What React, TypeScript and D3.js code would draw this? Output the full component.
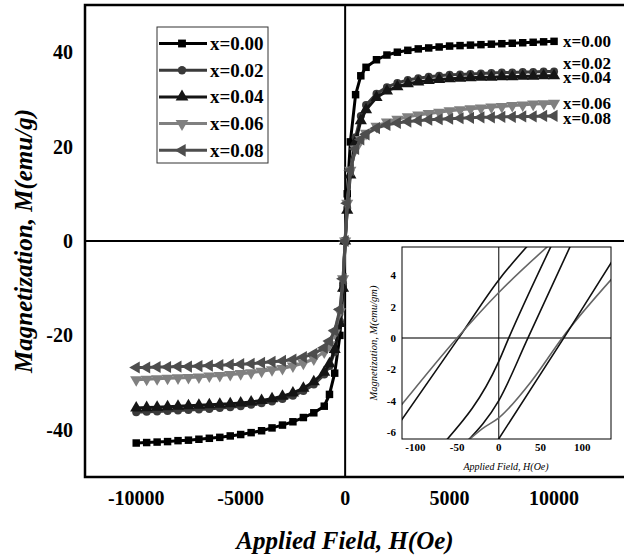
import React from "react";
import * as d3 from "d3";

// applied field (Oe) shared by all series
const fieldH = [
  -10000, -9500, -9000, -8500, -8000, -7500, -7000, -6500, -6000, -5500, -5000, -4500, -4000, -3500, -3000,
  -2500, -2000, -1500, -1000, -750, -500, -250, -100, 0, 100, 250, 500, 750, 1000, 1500, 2000, 2500, 3000,
  3500, 4000, 4500, 5000, 5500, 6000, 6500, 7000, 7500, 8000, 8500, 9000, 9500, 10000,
];

const seriesNames = ["x=0.00", "x=0.02", "x=0.04", "x=0.06", "x=0.08"];

const m000 = [
  -42.8, -42.7, -42.6, -42.5, -42.3, -42.2, -42.0, -41.8, -41.6, -41.3, -41.0, -40.6, -40.2, -39.6, -39.0,
  -38.3, -37.4, -36.4, -35.0, -32.5, -28.0, -20.0, -10.0, 0, 10.0, 21.0, 31.0, 35.0, 36.8, 38.4, 39.4, 40.0,
  40.4, 40.7, 40.9, 41.1, 41.3, 41.4, 41.5, 41.6, 41.7, 41.8, 41.9, 42.0, 42.1, 42.2, 42.3,
];
const m002 = [
  -36.3, -36.2, -36.1, -36.0, -35.9, -35.8, -35.7, -35.6, -35.4, -35.2, -35.0, -34.7, -34.4, -34.0, -33.5,
  -32.8, -31.8, -30.4, -28.3, -26.5, -23.5, -17.0, -9.0, 0, 7.0, 15.0, 22.0, 26.5, 28.8, 31.2, 32.6, 33.5,
  34.1, 34.5, 34.8, 35.0, 35.2, 35.3, 35.4, 35.5, 35.6, 35.7, 35.7, 35.8, 35.8, 35.9, 35.9,
];
const m004 = [
  -35.4, -35.3, -35.2, -35.1, -35.0, -34.9, -34.8, -34.7, -34.6, -34.5, -34.3, -34.1, -33.8, -33.4, -32.9,
  -32.2, -31.2, -29.8, -27.8, -26.0, -23.0, -17.5, -10.0, 0, 6.5, 14.0, 21.0, 25.5, 27.8, 30.4, 31.8, 32.7,
  33.3, 33.7, 34.0, 34.2, 34.4, 34.5, 34.6, 34.7, 34.7, 34.8, 34.8, 34.9, 34.9, 35.0, 35.0,
];
const m006 = [
  -29.4, -29.3, -29.2, -29.1, -29.0, -28.9, -28.8, -28.6, -28.5, -28.3, -28.1, -27.9, -27.6, -27.3, -27.0,
  -26.5, -25.9, -25.0, -23.5, -22.0, -19.5, -15.0, -8.0, 0, 8.0, 15.0, 19.5, 21.5, 22.8, 24.3, 25.2, 25.8,
  26.3, 26.7, 27.0, 27.3, 27.6, 27.8, 28.0, 28.2, 28.4, 28.5, 28.7, 28.8, 29.0, 29.1, 29.2,
];
const m008 = [
  -26.8, -26.8, -26.7, -26.7, -26.6, -26.6, -26.5, -26.4, -26.3, -26.2, -26.1, -26.0, -25.8, -25.6, -25.4,
  -25.1, -24.6, -23.9, -22.6, -21.2, -19.0, -14.5, -8.0, 0, 8.0, 15.0, 19.5, 21.5, 22.6, 23.9, 24.6, 25.0,
  25.3, 25.5, 25.7, 25.8, 25.9, 26.0, 26.1, 26.2, 26.2, 26.3, 26.3, 26.4, 26.4, 26.5, 26.5,
];

const xTicks = [-10000, -5000, 0, 5000, 10000];
const yTicks = [-40, -20, 0, 20, 40];

// inset: branches of the loops near the origin, [H (Oe), M (emu/gm)]
const insetBlackA = [[-120, -5.5], [-48, 0], [0, 3.7], [40, 6.2]];
const insetGrayB = [[-120, -4.5], [-50, 0], [0, 2.9], [62, 6.0]];
const insetBlackC = [[-64, -6.6], [0, -1.5], [12, 0], [64, 6.0]];
const insetBlackD = [[-38, -6.6], [0, -4.0], [35, 0], [87, 6.0]];
const insetGrayE = [[-38, -6.6], [-20, -5.8], [0, -5.1], [40, -2.7], [76, 0], [136, 3.8]];
const insetBlackF = [[-2, -6.6], [78, 0], [136, 4.9]];

const insetXTicks = [-100, -50, 0, 50, 100];
const insetYTicks = [-6, -4, -2, 0, 2, 4];

const seriesValues = [m000, m002, m004, m006, m008];
const colors = ["#000000", "#3a3a3a", "#151515", "#808080", "#4d4d4d"];
const markerRotate = [0, 0, 0, 180, -90];
const markerTypes = [d3.symbolSquare, d3.symbolCircle, d3.symbolTriangle, d3.symbolTriangle, d3.symbolTriangle];
const markerSizes = [56, 50, 64, 64, 64];
const endLabelY = [41, 63, 77, 103, 118];

const font = "'Liberation Serif', 'Times New Roman', serif";

export default function App() {
  const x = d3.scaleLinear().domain([-12500, 13300]).range([84, 623]);
  const y = d3.scaleLinear().domain([-50, 50]).range([477, 5]);

  const line = d3
    .line<number>()
    .x((_, i) => x(fieldH[i]))
    .y((d) => y(d));

  const ix = d3.scaleLinear().domain([-116, 134.5]).range([402, 611]);
  const iy = d3.scaleLinear().domain([-6.45, 5.8]).range([439, 247]);
  const iline = d3
    .line<number[]>()
    .x((d) => ix(d[0]))
    .y((d) => iy(d[1]))
    .curve(d3.curveMonotoneX);

  const insetLines = [
    { pts: insetBlackA, c: "#111" },
    { pts: insetGrayB, c: "#666" },
    { pts: insetBlackC, c: "#111" },
    { pts: insetBlackD, c: "#111" },
    { pts: insetGrayE, c: "#666" },
    { pts: insetBlackF, c: "#111" },
  ];

  const marker = (k: number, cx: number, cy: number, key: string, scale = 1) => (
    <path
      key={key}
      d={d3.symbol().type(markerTypes[k]).size(markerSizes[k] * scale)() || ""}
      transform={`translate(${cx},${cy}) rotate(${markerRotate[k]})`}
      fill={colors[k]}
    />
  );

  return (
    <svg width={624} height={560} style={{ position: "absolute", left: 0, top: 0, background: "#fff" }} fontFamily={font}>
      <defs>
        <clipPath id="insetClip">
          <rect x={ix.range()[0]} y={iy.range()[1]} width={ix.range()[1] - ix.range()[0]} height={iy.range()[0] - iy.range()[1]} />
        </clipPath>
      </defs>

      {/* zero lines */}
      <line x1={x.range()[0]} x2={624} y1={y(0)} y2={y(0)} stroke="#000" strokeWidth={2} />
      <line x1={x(0)} x2={x(0)} y1={y(50)} y2={y(-50)} stroke="#000" strokeWidth={2} />

      {/* series */}
      {seriesValues.map((vals, k) => (
        <g key={seriesNames[k]}>
          <path d={line(vals) || ""} fill="none" stroke={colors[k]} strokeWidth={3} />
          {vals.map((v, i) => marker(k, x(fieldH[i]), y(v), `${k}-${i}`))}
        </g>
      ))}

      {/* end labels */}
      {seriesNames.map((n, k) => (
        <text key={n} x={563} y={endLabelY[k] + 5.5} fontSize={17} fontWeight="bold" fill="#000">
          {n}
        </text>
      ))}

      {/* legend */}
      <rect x={157} y={27} width={111} height={136} fill="#fff" stroke="#333" strokeWidth={1} />
      {seriesNames.map((n, k) => {
        const ly = 43.5 + k * 26.7;
        return (
          <g key={"lg" + n}>
            <line x1={159} x2={207} y1={ly} y2={ly} stroke={colors[k]} strokeWidth={3} />
            {marker(k, 182, ly, "lm" + k, 1.1)}
            <text x={210} y={ly + 6.5} fontSize={19} fontWeight="bold">
              {n}
            </text>
          </g>
        );
      })}

      {/* frame */}
      <polyline points={`624,5 85,5 85,477 624,477`} fill="none" stroke="#000" strokeWidth={2.5} />

      {/* axes tick labels */}
      {yTicks.map((t) => (
        <text key={"y" + t} x={73} y={y(t) + 7} textAnchor="end" fontSize={20} fontWeight="bold">
          {t}
        </text>
      ))}
      {xTicks.map((t) => (
        <text key={"x" + t} x={x(t)} y={505} textAnchor="middle" fontSize={20} fontWeight="bold">
          {t}
        </text>
      ))}
      <text x={345} y={549} textAnchor="middle" fontSize={25} fontWeight="bold" fontStyle="italic">
        Applied Field, H(Oe)
      </text>
      <text transform="translate(32,241) rotate(-90)" textAnchor="middle" fontSize={25} fontWeight="bold" fontStyle="italic">
        Magnetization, M(emu/g)
      </text>

      {/* inset */}
      <g>
        <rect x={360} y={244} width={262} height={231} fill="#fff" />
        <line x1={ix.range()[0]} x2={ix.range()[1]} y1={iy(0)} y2={iy(0)} stroke="#777" strokeWidth={2} />
        <line x1={ix(0)} x2={ix(0)} y1={iy.range()[0]} y2={iy.range()[1]} stroke="#000" strokeWidth={1} />
        <g clipPath="url(#insetClip)">
          {insetLines.map((l, i) => (
            <path key={i} d={iline(l.pts) || ""} fill="none" stroke={l.c} strokeWidth={1.6} />
          ))}
        </g>
        <rect
          x={ix.range()[0]}
          y={iy.range()[1]}
          width={ix.range()[1] - ix.range()[0]}
          height={iy.range()[0] - iy.range()[1]}
          fill="none"
          stroke="#000"
          strokeWidth={1}
        />
        {insetYTicks.map((t) => (
          <text key={"iy" + t} x={396} y={iy(t) + 4} textAnchor="end" fontSize={11} fontWeight="bold">
            {t}
          </text>
        ))}
        {insetXTicks.map((t) => (
          <text key={"ix" + t} x={ix(t)} y={451} textAnchor="middle" fontSize={11} fontWeight="bold">
            {t}
          </text>
        ))}
        <text x={506} y={470} textAnchor="middle" fontSize={10} fontStyle="italic">
          Applied Field, H(Oe)
        </text>
        <text transform="translate(377,343) rotate(-90)" textAnchor="middle" fontSize={10.5} fontStyle="italic">
          Magnetization, M(emu/gm)
        </text>
      </g>
    </svg>
  );
}
